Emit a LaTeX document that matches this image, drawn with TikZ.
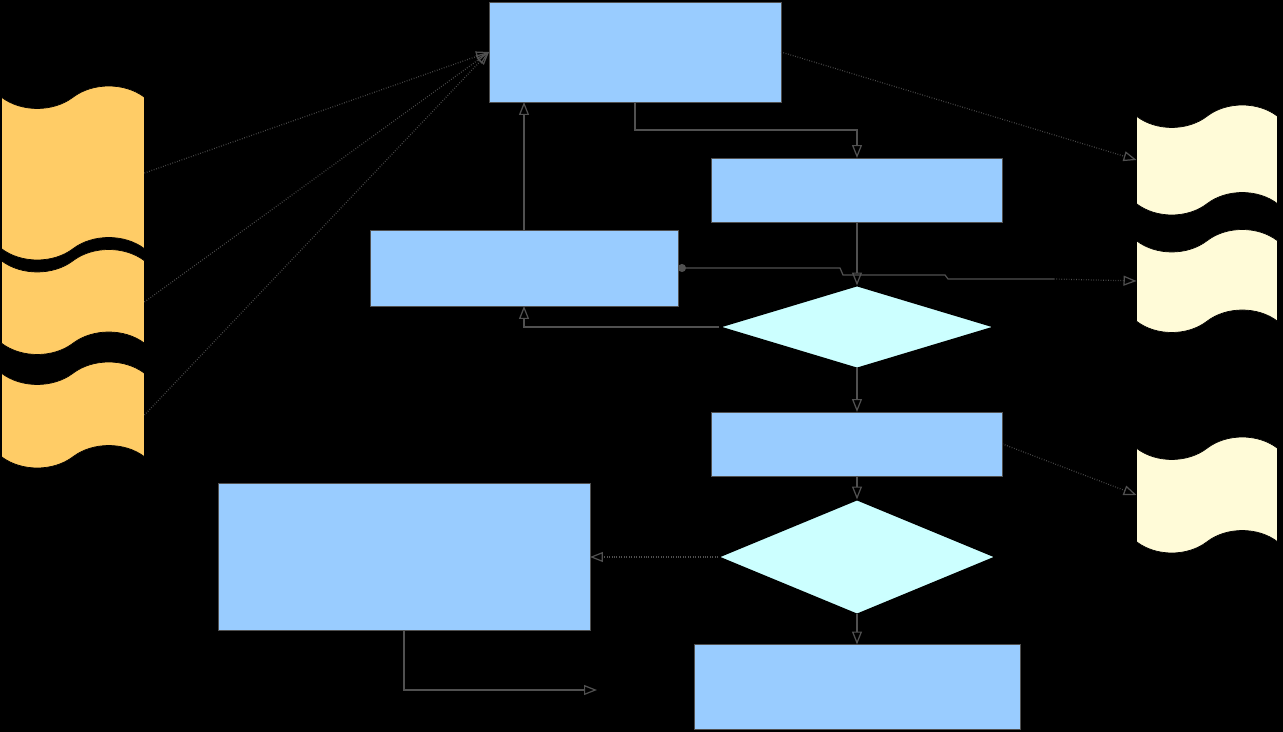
\documentclass[tikz,border=0pt]{standalone}
\usepackage{tikz}
\usetikzlibrary{arrows.meta,shapes.geometric,shapes.symbols}
\definecolor{procblue}{HTML}{99CCFF}
\definecolor{testcyan}{HTML}{CCFFFF}
\definecolor{srcorange}{HTML}{FFCC66}
\definecolor{outcream}{HTML}{FFFBD8}
\definecolor{wire}{HTML}{505050}

\begin{document}
\begin{tikzpicture}[x=0.02cm,y=-0.02cm,
every node/.style={inner sep=0pt,outer sep=0pt},
proc/.style={rectangle,draw=wire,fill=procblue},
test/.style={diamond,draw=black,line width=1pt,fill=testcyan},
src/.style={tape,draw=black,fill=srcorange,tape bend top=in and out,tape bend bottom=in and out,tape bend height=0.45cm,minimum width=2.86cm},
sink/.style={tape,draw=black,fill=outcream,tape bend top=in and out,tape bend bottom=in and out,tape bend height=0.45cm,minimum width=2.82cm},
link/.style={draw=wire,line width=0.7pt,-{Triangle[open,length=2.6mm,width=2mm]}}]
\fill[black] (0,0) rectangle (1283,732);
\useasboundingbox (0,0) rectangle (1283,732);
% process boxes
\node (A) at (635,52) [proc,minimum width=5.84cm,minimum height=2cm] {};
\node (B) at (857,190) [proc,minimum width=5.82cm,minimum height=1.28cm] {};
\node (C) at (524,268) [proc,minimum width=6.16cm,minimum height=1.52cm] {};
\node (E) at (857,444) [proc,minimum width=5.82cm,minimum height=1.28cm] {};
\node (F) at (404,557) [proc,minimum width=7.44cm,minimum height=2.94cm] {};
\node (G) at (857,687) [proc,minimum width=6.52cm,minimum height=1.7cm] {};
% decisions
\node (D1) at (857,327) [test,minimum width=5.52cm,minimum height=1.66cm] {};
\node (D2) at (857,557) [test,minimum width=5.56cm,minimum height=2.3cm] {};
% input and output documents
\node (L1) at (73,173) [src,minimum height=3.48cm] {};
\node (L2) at (73,302) [src,minimum height=2.1cm] {};
\node (L3) at (73,415) [src,minimum height=2.12cm] {};
\node (R1) at (1207,160) [sink,minimum height=2.2cm] {};
\node (R2) at (1207,281) [sink,minimum height=2.06cm] {};
\node (R3) at (1207,495) [sink,minimum height=2.32cm] {};
\coordinate (hop) at (1054,279);
\coordinate (fout) at (597,690);

\begin{scope}[densely dotted]
\draw[link] (L1.east)--(A.west);
\draw[link] (L2.east)--(A.west);
\draw[link] (L3.east)--(A.west);
\draw[link] (A.east)--(R1.west);
\draw[link] (E.east)--(R3.west);
\draw[link] (D2.west)--(F.east);
\draw[link] (hop)--(R2.west);
\end{scope}
\draw[link] (A.south)--++(0,28)-|(B.north);
\draw[link] (B.south)--(D1.north);
\draw[link] (D1.south)--(E.north);
\draw[link] (E.south)--(D2.north);
\draw[link] (D2.south)--(G.north);
\draw[link] (D1.west)-|(C.south);
\draw[link] (C.north)--(C.north|-A.south);
\draw[link] (F.south)|-(fout);
\draw[draw=wire,line width=0.7pt,{Circle[length=1.6mm]}-] (C.east)--(840,268)--(843,275)--(945,275)--(948,279)--(hop);
\end{tikzpicture}
\end{document}
